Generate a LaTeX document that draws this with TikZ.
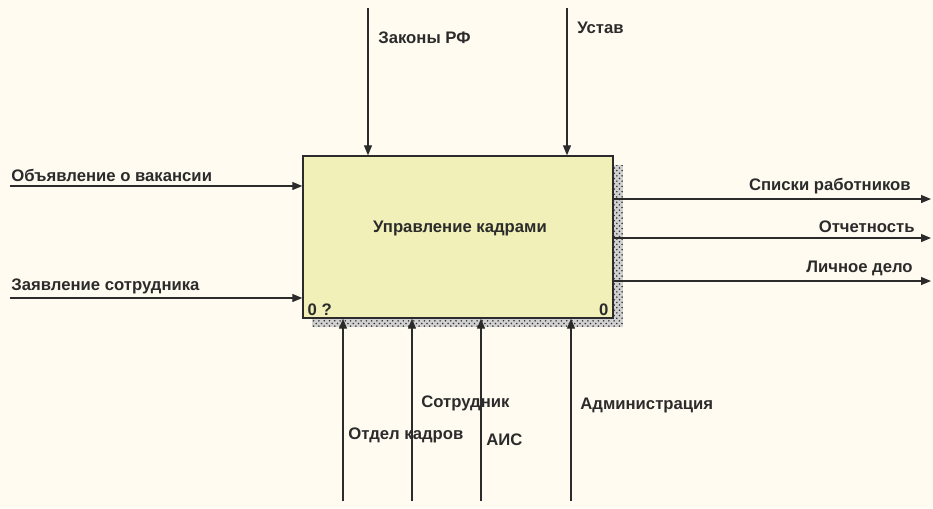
\documentclass[tikz,border=0pt]{standalone}
\usepackage{fontspec}
\setmainfont{Liberation Sans}
\usepackage{tikz}
\usetikzlibrary{arrows.meta,positioning,patterns,calc}
\definecolor{paper}{HTML}{FFFBF0}
\definecolor{boxfill}{HTML}{F0F0B8}
\definecolor{ink}{HTML}{2B2B2B}
\tikzset{
  func/.style={rectangle,draw=ink,fill=boxfill,line width=0.8pt,
    minimum width=62mm,minimum height=32.4mm,inner sep=0pt},
  lbl/.style={font=\bfseries\fontsize{9.5}{11}\selectfont,text=ink,inner sep=0pt},
  flow/.style={-{Triangle[length=2mm,width=1.6mm]},line width=0.7pt,draw=ink},
}

\begin{document}
\begin{tikzpicture}[x=0.2mm,y=-0.2mm]
  \fill[paper] (0,0) rectangle (933,508);
  \useasboundingbox (0,0) rectangle (933,508);

  % shadow behind the function box
  \fill[black!18] (312,165) rectangle (623,327);
  \fill[pattern=crosshatch dots,pattern color=black!80] (312,165) rectangle (623,327);
  \node[func] (box) at (458,237) {};
  \node[lbl] (title) at (460,228) {Управление кадрами};
  \node[lbl,anchor=south west] (num) at ($(box.south west)+(5,-3)$) {0 ?};
  \node[lbl,anchor=south east] (num2) at ($(box.south east)+(-5,-3)$) {0};

  % controls
  \coordinate (c1) at (368,8);
  \coordinate (c2) at (567,8);
  \draw[flow] (c1) -- (c1 |- box.north);
  \draw[flow] (c2) -- (c2 |- box.north);
  \node[lbl,anchor=west] (law) at (378,38) {Законы РФ};
  \node[lbl,anchor=west] (ust) at (577,28) {Устав};

  % inputs
  \coordinate (i1) at (10,186);
  \coordinate (i2) at (10,298);
  \draw[flow] (i1) -- (i1 -| box.west);
  \draw[flow] (i2) -- (i2 -| box.west);
  \node[lbl,anchor=south west] (vac) at (11,182) {Объявление о вакансии};
  \node[lbl,anchor=south west] (zay) at (11,294) {Заявление сотрудника};

  % outputs
  \coordinate (o1) at (931,199);
  \coordinate (o2) at (931,238);
  \coordinate (o3) at (931,281);
  \draw[flow] (o1 -| box.east) -- (o1);
  \draw[flow] (o2 -| box.east) -- (o2);
  \draw[flow] (o3 -| box.east) -- (o3);
  \node[lbl,anchor=south east] (spis) at (911,194) {Списки работников};
  \node[lbl,anchor=south east] (otch) at (915,233) {Отчетность};
  \node[lbl,anchor=south east] (delo) at (913,276) {Личное дело};

  % mechanisms
  \coordinate (m1) at (343,501);
  \coordinate (m2) at (412,501);
  \coordinate (m3) at (481,501);
  \coordinate (m4) at (571,501);
  \draw[flow] (m1) -- (m1 |- box.south);
  \draw[flow] (m2) -- (m2 |- box.south);
  \draw[flow] (m3) -- (m3 |- box.south);
  \draw[flow] (m4) -- (m4 |- box.south);
  \node[lbl,anchor=west] (otd) at (348,435) {Отдел кадров};
  \node[lbl,anchor=west] (sotr) at (421,403) {Сотрудник};
  \node[lbl,anchor=west] (ais) at (486,440) {АИС};
  \node[lbl,anchor=west] (adm) at (580,405) {Администрация};
\end{tikzpicture}
\end{document}
